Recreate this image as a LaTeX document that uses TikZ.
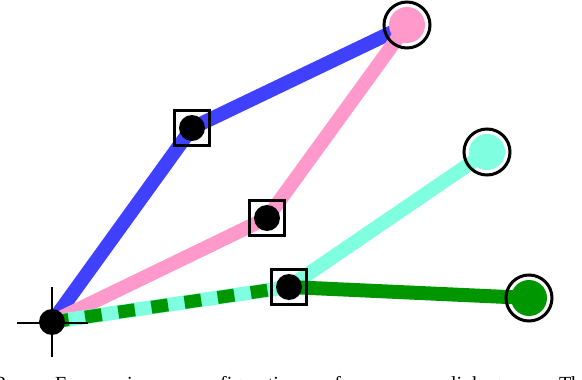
\documentclass[tikz,border=0pt]{standalone}
\usepackage{fontspec}
\setmainfont{Liberation Serif}
\definecolor{lblue}{RGB}{64,64,255}
\definecolor{lpink}{RGB}{255,153,204}
\definecolor{lcyan}{RGB}{127,255,224}
\definecolor{lgreen}{RGB}{0,150,0}
\begin{document}
\begin{tikzpicture}[x=1pt,y=-1pt,
  link/.style={line width=14pt},
  sharedlink/.style={line width=13pt,lgreen,dash pattern=on 16.75pt off 16.75pt},
  joint/.style={circle,fill=black,inner sep=0pt,minimum size=26pt},
  jointbox/.style={draw=black,line width=3.5pt,minimum size=35pt,inner sep=0pt},
  tipdisc/.style={circle,inner sep=0pt,minimum size=36pt},
  target/.style={circle,draw=black,line width=3pt,inner sep=0pt,minimum size=46pt},
  crossline/.style={line width=1.2pt,black}]
\useasboundingbox (0,0) rectangle (582,380);
% joints
\coordinate (O) at (52,322);
\coordinate (A) at (192,128);
\coordinate (B) at (267,218);
\coordinate (C) at (289,287);
\coordinate (P) at (407,25);
\coordinate (Q) at (487,152);
\coordinate (R) at (529,298);
% links
\draw[link,lblue] (O) -- (A) -- (P);
\draw[link,lpink] (O) -- (B) -- (P);
\draw[link,lcyan] (O) -- (C) -- (Q);
\draw[link,lgreen] (C) -- (R);
\draw[sharedlink] (O) -- (C);
% end effectors
\node[tipdisc,fill=lpink] (Pd) at (P) {};
\node[tipdisc,fill=lcyan] (Qd) at (Q) {};
\node[tipdisc,fill=lgreen] (Rd) at (R) {};
\node[target] (Pt) at (P) {};
\node[target] (Qt) at (Q) {};
\node[target] (Rt) at (R) {};
% elbow joints
\node[jointbox] (Ab) at (A) {};
\node[jointbox] (Bb) at (B) {};
\node[jointbox] (Cb) at (C) {};
\node[joint] (Aj) at (A) {};
\node[joint] (Bj) at (B) {};
\node[joint] (Cj) at (C) {};
% base
\node[joint] (Oj) at (O) {};
\coordinate (hl) at (17,323);
\coordinate (hr) at (88,323);
\coordinate (vt) at (52,287);
\coordinate (vb) at (52,357);
\draw[crossline] (hl) -- (hr);
\draw[crossline] (vt) -- (vb);
% caption (cut off by the page, as in the reference)
\node[anchor=base west,inner sep=0pt,font=\fontsize{20}{24}\selectfont] (cap) at (-4,390)
  {\makebox[585pt][s]{2. Four primary configurations of an open linkage. Th}e};
\end{tikzpicture}
\end{document}
